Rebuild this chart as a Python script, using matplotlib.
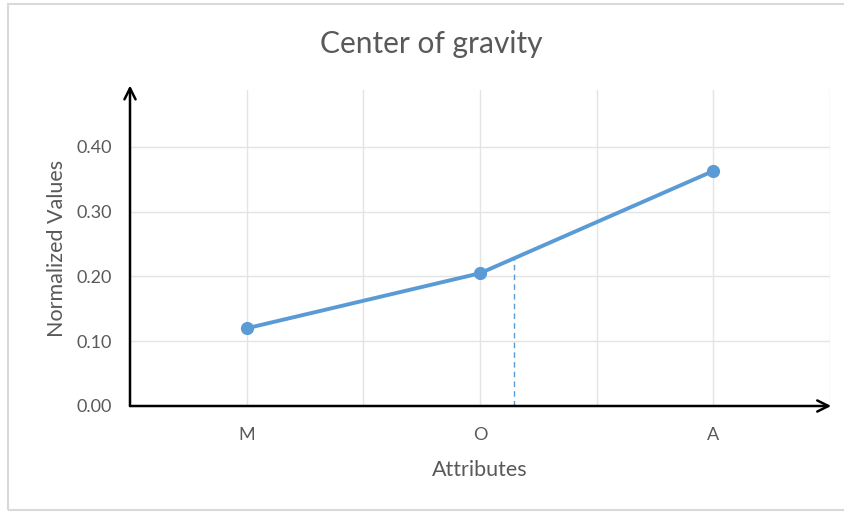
import matplotlib.pyplot as plt
from matplotlib.patches import Rectangle

attributes = ['M', 'O', 'A']
values = [0.12, 0.205, 0.363]
center_x = 1.146  # position of the center of gravity along the attributes
y_ticks = [0.0, 0.1, 0.2, 0.3, 0.4]

blue = '#5B9BD5'
grey = '#595959'
plt.rcParams['font.family'] = ['Lato', 'DejaVu Sans']

fig = plt.figure(figsize=(8.45, 5.14), dpi=100)
ax = fig.add_axes([130 / 845, 108 / 514, 700 / 845, 316 / 514])

x = list(range(len(attributes)))
ax.set_xlim(-0.5, 2.5)
ax.set_ylim(0, 0.488)

# light grid: horizontal at ticks, vertical every half category
for v in y_ticks[1:]:
    ax.axhline(v, color='#E4E4E4', lw=1.0, zorder=0)
for gx in [0, 0.5, 1, 1.5, 2, 2.5]:
    ax.axvline(gx, color='#E4E4E4', lw=1.0, zorder=0)

ax.plot(x, values, color=blue, lw=2.8, marker='o', markersize=8.5, zorder=3,
        solid_capstyle='round')

# dashed drop line from the curve at the center of gravity
cy = values[1] + (center_x - 1) * (values[2] - values[1])
ax.plot([center_x, center_x], [0, cy], color=blue, lw=1, ls=(0, (4, 3)), zorder=2)

for s in ax.spines.values():
    s.set_visible(False)

# axis arrows
ax.annotate('', xy=(-0.5, 0.495), xytext=(-0.5, 0), xycoords='data',
            arrowprops=dict(arrowstyle='->', color='black', lw=1.8,
                            mutation_scale=20, shrinkA=0, shrinkB=0),
            annotation_clip=False)
ax.annotate('', xy=(2.505, 0), xytext=(-0.5, 0),
            arrowprops=dict(arrowstyle='->', color='black', lw=1.8,
                            mutation_scale=20, shrinkA=0, shrinkB=0),
            annotation_clip=False)

ax.set_xticks(x)
ax.set_xticklabels(attributes)
ax.set_yticks(y_ticks)
ax.set_yticklabels(['%.2f' % v for v in y_ticks])
ax.tick_params(axis='both', length=0, labelsize=13, labelcolor=grey)
ax.tick_params(axis='y', pad=13)
ax.tick_params(axis='x', pad=15)

ax.set_xlabel('Attributes', fontsize=15.5, color=grey, labelpad=12)
ax.set_ylabel('Normalized Values', fontsize=15.5, color=grey, labelpad=7)

fig.text(431 / 845, 1 - 44 / 514, 'Center of gravity', fontsize=21.5,
         color=grey, ha='center', va='center')

fig.patches.append(Rectangle((8 / 845, 4 / 514), 1, 1 - 8 / 514,
                             transform=fig.transFigure, fill=False,
                             edgecolor='#D9D9D9', lw=1.5))

fig.savefig('out.png', dpi=100, facecolor='white')
